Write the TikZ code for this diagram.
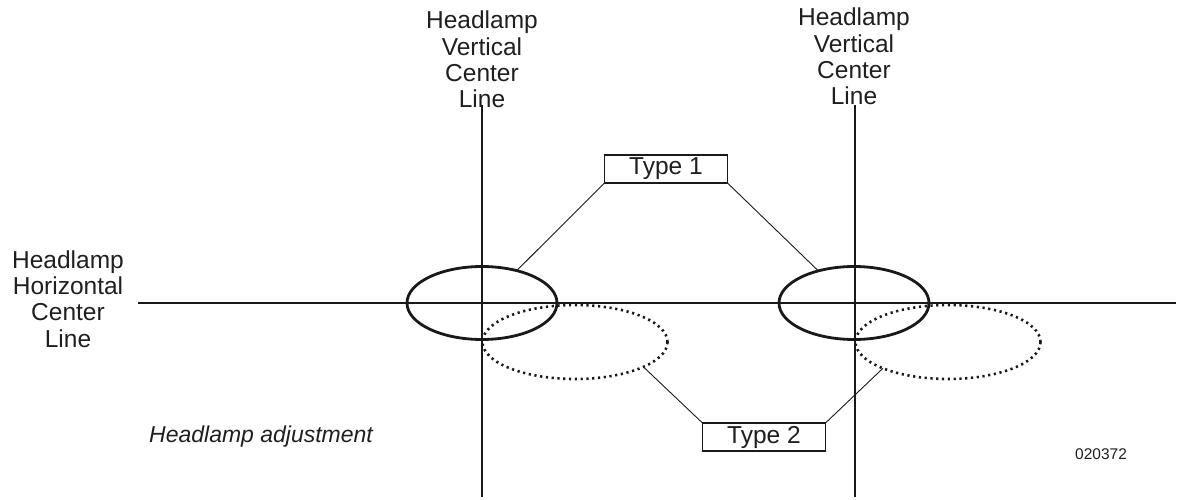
\documentclass[tikz,border=0pt]{standalone}
\usepackage{fontspec}
\setmainfont{Liberation Sans}
\usetikzlibrary{shapes.geometric}
\begin{document}
\begin{tikzpicture}[x=1pt,y=-1pt,
  lbl/.style={align=center,inner sep=0pt,font=\fontsize{24.5}{26.3}\selectfont,text=black!88},
  axis/.style={line width=1.8pt,draw=black!90},
  lamp/.style={ellipse,draw=black!90,line width=2.8pt,inner sep=0pt,outer sep=0pt,minimum width=150pt,minimum height=73pt},
  lampdot/.style={ellipse,draw=black!90,line width=2.6pt,dash pattern=on 2.2pt off 3.6pt,inner sep=0pt,outer sep=0pt,minimum width=185pt,minimum height=74pt},
  typebox/.style={draw=black!90,line width=1.1pt,minimum width=123pt,minimum height=28pt,inner sep=0pt,outer sep=0pt,font=\fontsize{24.5}{26}\selectfont,text=black!88},
  conn/.style={line width=0.9pt,draw=black!90}]
\useasboundingbox (0,0) rectangle (1178,500);
% axes
\coordinate (hl) at (138,303);
\coordinate (hr) at (1176,303);
\coordinate (v1t) at (482,105);
\coordinate (v1b) at (482,497);
\coordinate (v2t) at (855,105);
\coordinate (v2b) at (855,497);
\draw[axis] (hl) -- (hr);
\draw[axis] (v1t) -- (v1b);
\draw[axis] (v2t) -- (v2b);
% ellipses
\node[lampdot] (d1) at (575,342) {};
\node[lampdot] (d2) at (948,342) {};
\node[lamp] (e1) at (482,303) {};
\node[lamp] (e2) at (854,303) {};
% boxes
\node[typebox,fill=white] (t1) at (666,169) {Type 1};
\node[typebox,fill=white] (t2) at (764,437) {Type 2};
% connectors
\draw[conn] (t1.south west) -- (e1.43);
\draw[conn] (t1.south east) -- (e2.138);
\draw[conn] (t2.north west) -- (d1.-20);
\draw[conn] (t2.north east) -- (d2.202);
% labels
\node[lbl,anchor=north] (lv1) at (482,11) {Headlamp\\Vertical\\Center\\Line};
\node[lbl,anchor=north] (lv2) at (854,8) {Headlamp\\Vertical\\Center\\Line};
\node[lbl] (lh) at (68,299) {Headlamp\\Horizontal\\Center\\Line};
\node[inner sep=0pt,anchor=west,font=\fontsize{23}{26}\selectfont\itshape,text=black!88] (cap) at (149,437) {Headlamp adjustment};
\node[inner sep=0pt,anchor=west,font=\fontsize{15.5}{17}\selectfont,text=black!88] (num) at (1075,454) {020372};
\end{tikzpicture}
\end{document}
